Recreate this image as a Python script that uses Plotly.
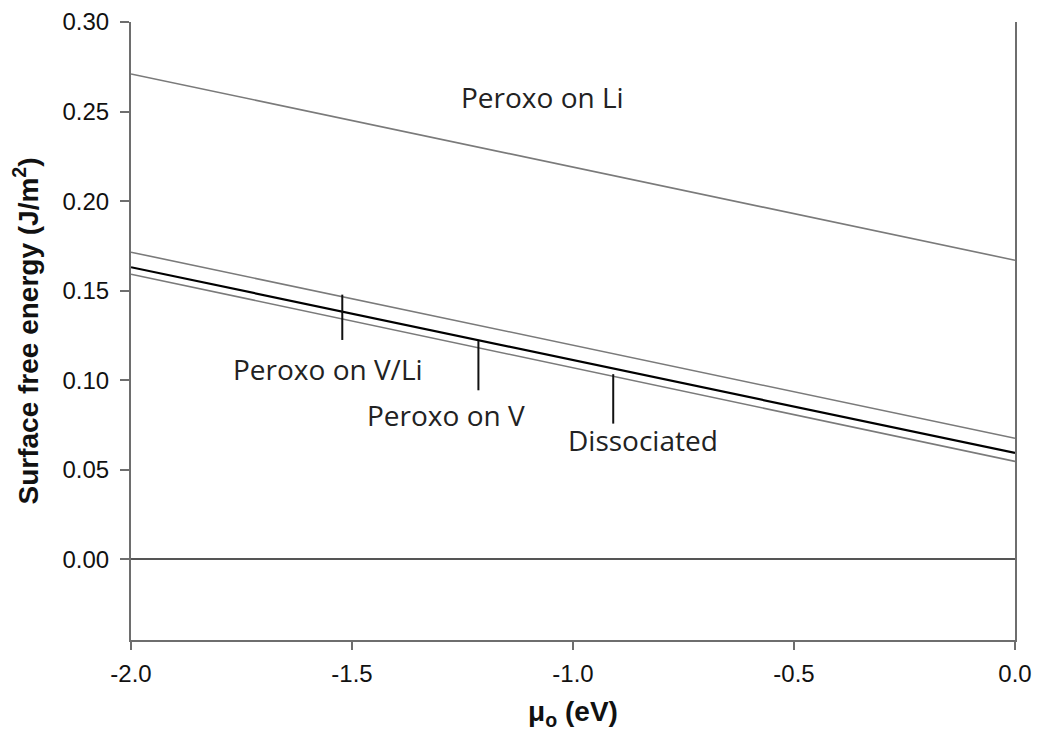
import plotly.graph_objects as go

# Oxygen chemical potential range (eV)
mu_o = [-2.0, 0.0]

# Surface free energy (J/m^2) at the two ends of the mu_o range
peroxo_li = [0.271, 0.167]
peroxo_v_li = [0.1715, 0.0676]
peroxo_v = [0.1631, 0.0594]
dissociated = [0.1592, 0.0547]

series_names = ["Peroxo on Li", "Peroxo on V/Li", "Peroxo on V", "Dissociated"]
series_values = [peroxo_li, peroxo_v_li, peroxo_v, dissociated]
series_colors = ["#7a7a7a", "#7a7a7a", "#000000", "#7a7a7a"]
series_widths = [1.6, 1.6, 2.2, 1.6]

x_ticks = [-2.0, -1.5, -1.0, -0.5, 0.0]
x_tick_labels = ["-2.0", "-1.5", "-1.0", "-0.5", "0.0"]
y_ticks = [0.00, 0.05, 0.10, 0.15, 0.20, 0.25, 0.30]
y_tick_labels = ["0.00", "0.05", "0.10", "0.15", "0.20", "0.25", "0.30"]

fig = go.Figure()
for name, vals, col, w in zip(series_names, series_values, series_colors, series_widths):
    fig.add_trace(go.Scatter(x=mu_o, y=vals, mode="lines", name=name,
                             line=dict(color=col, width=w), showlegend=False))

# Label placement: (text x, text y, leader x, leader y0, leader y1)
label_layout = {
    "Peroxo on Li": (-1.07, 0.258, None, None, None),
    "Peroxo on V/Li": (-1.554, 0.1062, -1.522, 0.1478, 0.1225),
    "Peroxo on V": (-1.287, 0.0808, -1.214, 0.1219, 0.0944),
    "Dissociated": (-0.842, 0.0668, -0.909, 0.1034, 0.0758),
}
for name in series_names:
    tx, ty, lx, ly0, ly1 = label_layout[name]
    fig.add_annotation(x=tx, y=ty, text=name, showarrow=False,
                       font=dict(family="Open Sans", size=28, color="#222222"))
    if lx is not None:
        fig.add_shape(type="line", x0=lx, x1=lx, y0=ly0, y1=ly1,
                      line=dict(color="#111111", width=2))

axis_font = dict(family="Liberation Sans, Arial", size=24, color="#111111")
title_font = dict(family="Liberation Sans, Arial", size=28, color="#111111")

fig.update_layout(
    width=1037, height=747,
    margin=dict(l=131, r=22, t=22, b=107),
    plot_bgcolor="white", paper_bgcolor="white",
    xaxis=dict(
        range=[-2.0, 0.0], tickvals=x_ticks, ticktext=x_tick_labels,
        ticks="outside", ticklen=8, tickwidth=2, tickcolor="#6e6e6e",
        showline=True, linecolor="#6e6e6e", linewidth=2,
        showgrid=False, zeroline=False, tickfont=axis_font,
        ticklabelstandoff=3, automargin=False,
        title=dict(text="<b>μ<sub>o</sub> (eV)</b>", font=title_font, standoff=16),
    ),
    yaxis=dict(
        range=[-0.045, 0.30], tickvals=y_ticks, ticktext=y_tick_labels,
        ticks="outside", ticklen=9, tickwidth=2, tickcolor="#6e6e6e",
        showline=True, linecolor="#6e6e6e", linewidth=2, mirror=True,
        showgrid=False, zeroline=True, zerolinecolor="#555555", zerolinewidth=2,
        tickfont=axis_font, ticklabelstandoff=6, automargin=False,
        title=dict(text="<b>Surface free energy (J/m<sup>2</sup>)</b>", font=title_font, standoff=16),
    ),
)

fig.write_html("out.html")
